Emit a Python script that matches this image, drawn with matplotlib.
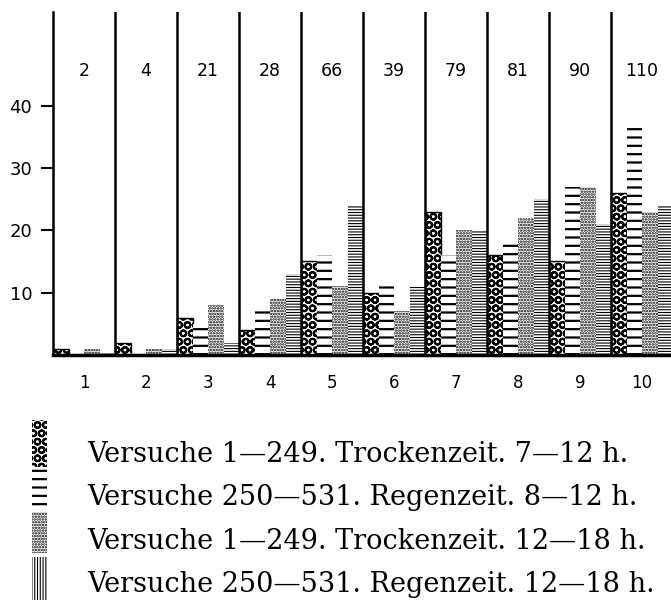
import matplotlib
matplotlib.use("Agg")
import matplotlib.pyplot as plt
from matplotlib.patches import Rectangle
import numpy as np

# Data
groups = [1, 2, 3, 4, 5, 6, 7, 8, 9, 10]
counts = ["2", "4", "21", "28", "66", "39", "79", "81", "90", "110"]
dry_7_12 = [1, 2, 6, 4, 15, 10, 23, 16, 15, 26]
rain_8_12 = [0, 0, 5, 7, 16, 11, 16, 18, 27, 37]
dry_12_18 = [1, 1, 8, 9, 11, 7, 20, 22, 27, 23]
rain_12_18 = [0.3, 1, 2, 13, 24, 11, 20, 25, 21, 24]
legend_labels = [
    "Versuche 1—249. Trockenzeit. 7—12 h.",
    "Versuche 250—531. Regenzeit. 8—12 h.",
    "Versuche 1—249. Trockenzeit. 12—18 h.",
    "Versuche 250—531. Regenzeit. 12—18 h.",
]

series = [dry_7_12, rain_8_12, dry_12_18, rain_12_18]
hatches = ["OO", "--", "......", "------"]
hatch_lw = [1.5, 1.6, 1.2, 0.8]

W, H = 671, 601
fig = plt.figure(figsize=(W / 100, H / 100), dpi=100)
ax = fig.add_axes([53 / W, (601 - 355) / H, 618 / W, 343 / H])

x0 = np.arange(len(groups))
bw = 0.25
for j, vals in enumerate(series):
    bars = ax.bar(x0 + j * bw, vals, width=bw, align="edge",
                  facecolor="white", edgecolor="black",
                  linewidth=1.0 if j == 0 else 0, hatch=hatches[j])
    for b in bars:
        b.set_hatch_linewidth(hatch_lw[j])

# group separators
for g in range(1, len(groups)):
    ax.axvline(g, color="black", lw=1.8, zorder=3)

for g, c in enumerate(counts):
    ax.text(g + 0.5, 45.5, c, ha="center", va="center", fontsize=12.5)

ax.set_xlim(0, 618 / 62)
ax.set_ylim(0, 55)
ax.set_yticks([10, 20, 30, 40])
ax.set_xticks(x0 + 0.5)
ax.set_xticklabels([str(g) for g in groups])
ax.tick_params(axis="y", length=9, width=1.5, labelsize=13, pad=6)
ax.tick_params(axis="x", length=0, labelsize=12, pad=14)
for s in ["top", "right"]:
    ax.spines[s].set_visible(False)
ax.spines["left"].set_linewidth(1.8)
ax.spines["bottom"].set_linewidth(2.5)

# legend symbols (vertical strip) and texts
sym = [(420, 467, "OO", 1.5), (467, 508, "--", 1.6), (512, 553, "......", 1.2), (557, 600, "||||||", 0.8)]
for (y1, y2, h, lw) in sym:
    r = Rectangle((32 / W, 1 - y2 / H), 15 / W, (y2 - y1) / H, transform=fig.transFigure,
                  facecolor="white", edgecolor="black", linewidth=0, hatch=h)
    r.set_hatch_linewidth(lw)
    fig.add_artist(r)

for k, lab in enumerate(legend_labels):
    fig.text(87 / W, 1 - (462 + 43.3 * k) / H, lab, fontsize=19.5,
             family="DejaVu Serif", va="baseline", ha="left")

fig.savefig("out.png", dpi=100)
